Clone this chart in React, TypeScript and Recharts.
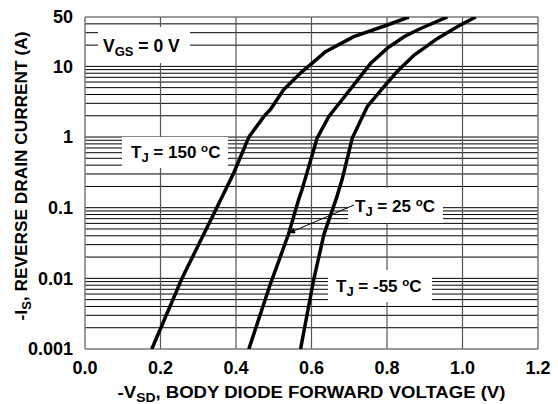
import React from 'react';
import { LineChart, Line, XAxis, YAxis, ReferenceLine } from 'recharts';

// X: -VSD (V), Y: -IS (A)
const xTicks = [0, 0.2, 0.4, 0.6, 0.8, 1.0, 1.2];
const yTicks = [0.001, 0.01, 0.1, 1, 10, 50];
const vGrid = [0.2, 0.4, 0.6, 0.8, 1.0];
const hGrid = [
  0.002, 0.003, 0.004, 0.005, 0.006, 0.007, 0.008, 0.009,
  0.01, 0.02, 0.03, 0.04, 0.05, 0.06, 0.07, 0.08, 0.09,
  0.1, 0.2, 0.3, 0.4, 0.5, 0.6, 0.7, 0.8, 0.9,
  1, 2, 3, 4, 5, 6, 7, 8, 9,
  10, 20, 30, 40,
];

const v150 = [0.177, 0.257, 0.349, 0.394, 0.434, 0.474, 0.491, 0.526, 0.575, 0.602, 0.637, 0.712, 0.801, 0.858];
const i150 = [0.001, 0.01, 0.1, 0.31, 1.0, 1.96, 2.45, 4.66, 8.45, 11.1, 16.2, 26.3, 38.5, 50];

const v25 = [0.434, 0.491, 0.539, 0.566, 0.575, 0.615, 0.646, 0.681, 0.726, 0.757, 0.801, 0.845, 0.889, 0.96];
const i25 = [0.001, 0.0083, 0.042, 0.131, 0.181, 0.97, 1.96, 3.37, 6.83, 11.1, 18.1, 26.3, 34.4, 50];

const vM55 = [0.571, 0.606, 0.633, 0.665, 0.681, 0.708, 0.748, 0.792, 0.827, 0.872, 0.934, 0.987, 1.035];
const iM55 = [0.001, 0.0097, 0.042, 0.131, 0.25, 0.97, 2.71, 5.18, 8.45, 14.5, 24.9, 36.6, 50];

const toData = (vs: number[], is: number[]) => vs.map((v, k) => ({ v, i: is[k] }));
const d150 = toData(v150, i150);
const d25 = toData(v25, i25);
const dM55 = toData(vM55, iM55);

const FONT = '"Liberation Sans", Arial, Helvetica, sans-serif';

export default function App() {
  const tickStyle = { fontFamily: FONT, fontWeight: 700, fontSize: 18, fill: '#000' };
  return (
    <div style={{ position: 'absolute', left: 0, top: 0, width: 558, height: 404, background: '#fff' }}>
      <LineChart
        width={558}
        height={404}
        margin={{ top: 17, right: 20, bottom: 0, left: 0 }}
      >
        <XAxis
          type="number"
          dataKey="v"
          domain={[0, 1.2]}
          ticks={xTicks}
          allowDataOverflow
          tickFormatter={(v: number) => v.toFixed(1)}
          tick={tickStyle}
          tickLine={false}
          axisLine={false}
          tickSize={6}
          tickMargin={6}
          height={55}
          interval={0}
        />
        <YAxis
          type="number"
          dataKey="i"
          scale="log"
          domain={[0.001, 50]}
          ticks={yTicks}
          allowDataOverflow
          tickFormatter={(v: number) => String(v)}
          tick={tickStyle}
          tickLine={false}
          axisLine={false}
          tickSize={6}
          tickMargin={6}
          width={85}
          interval={0}
        />
        {hGrid.map((y) => (
          <ReferenceLine key={'h' + y} y={y} stroke="#000" strokeWidth={1} />
        ))}
        {vGrid.map((x) => (
          <ReferenceLine key={'v' + x} x={x} stroke="#555" strokeWidth={1.2} />
        ))}
        <ReferenceLine y={0.001} stroke="#777" strokeWidth={1.5} />
        <ReferenceLine y={50} stroke="#777" strokeWidth={1.5} />
        <ReferenceLine x={0} stroke="#777" strokeWidth={1.5} />
        <ReferenceLine x={1.2} stroke="#777" strokeWidth={1.5} />
        <Line data={d150} dataKey="i" type="linear" stroke="#000" strokeWidth={3.5} dot={false} isAnimationActive={false} />
        <Line data={d25} dataKey="i" type="linear" stroke="#000" strokeWidth={3.5} dot={false} isAnimationActive={false} />
        <Line data={dM55} dataKey="i" type="linear" stroke="#000" strokeWidth={3.5} dot={false} isAnimationActive={false} />
      </LineChart>
      <svg
        width={558}
        height={404}
        style={{ position: 'absolute', left: 0, top: 0, pointerEvents: 'none' }}
        fontFamily={FONT}
        fontWeight={700}
      >
        <defs>
          <marker id="ah" viewBox="0 0 10 10" refX="10" refY="5" markerWidth="9" markerHeight="6" orient="auto" markerUnits="userSpaceOnUse">
            <path d="M0,0 L10,5 L0,10 z" fill="#000" />
          </marker>
        </defs>
        {/* V_GS label */}
        <rect x={98} y={27} width={92} height={36} fill="#fff" />
        <text x={103} y={52} fontSize={17.5} fill="#000">
          V<tspan fontSize={13} dy={4}>GS</tspan><tspan dy={-4}> = 0 V</tspan>
        </text>
        {/* 150 label */}
        <rect x={122} y={137} width={106} height={31} fill="#fff" />
        <text x={131} y={158} fontSize={17} fill="#000">
          T<tspan fontSize={13} dy={4}>J</tspan><tspan dy={-4}> = 150 </tspan><tspan fontSize={11.5} dy={-6}>o</tspan><tspan dy={6}>C</tspan>
        </text>
        {/* 25 label */}
        <rect x={348} y={188} width={95} height={35} fill="#fff" />
        <text x={355} y={212} fontSize={17} fill="#000">
          T<tspan fontSize={13} dy={4}>J</tspan><tspan dy={-4}> = 25 </tspan><tspan fontSize={11.5} dy={-6}>o</tspan><tspan dy={6}>C</tspan>
        </text>
        <line x1={354} y1={205} x2={289} y2={233} stroke="#000" strokeWidth={1} markerEnd="url(#ah)" />
        {/* -55 label */}
        <rect x={328} y={270} width={104} height={32} fill="#fff" />
        <text x={336} y={292} fontSize={17} fill="#000">
          T<tspan fontSize={13} dy={4}>J</tspan><tspan dy={-4}> = -55 </tspan><tspan fontSize={11.5} dy={-6}>o</tspan><tspan dy={6}>C</tspan>
        </text>
        {/* axis titles */}
        <g transform="translate(311.5,398) scale(1.16,1)">
          <text x={0} y={0} fontSize={16} textAnchor="middle" fill="#000">
            -V<tspan fontSize={12} dy={4}>SD</tspan><tspan dy={-4}>, BODY DIODE FORWARD VOLTAGE (V)</tspan>
          </text>
        </g>
        <g transform="translate(27,176) rotate(-90) scale(1.08,1)">
          <text x={0} y={0} fontSize={16} textAnchor="middle" fill="#000">
            -I<tspan fontSize={12} dy={4}>S</tspan><tspan dy={-4}>, REVERSE DRAIN CURRENT (A)</tspan>
          </text>
        </g>
      </svg>
    </div>
  );
}
